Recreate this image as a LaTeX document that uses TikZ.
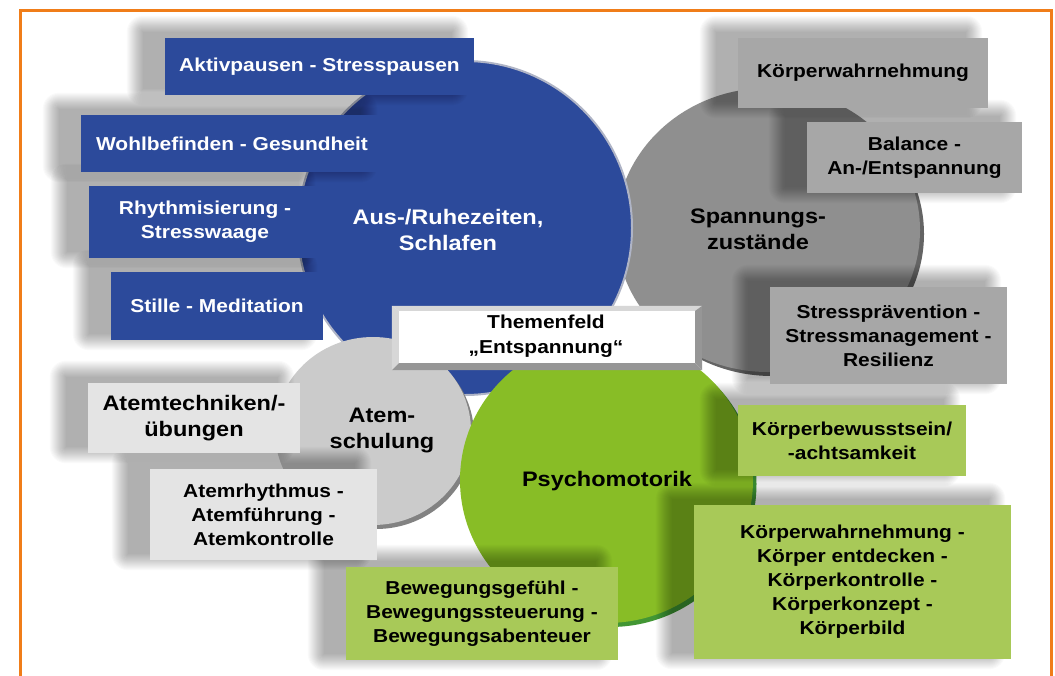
\documentclass[tikz,border=0pt]{standalone}
\usepackage{fontspec}
\setmainfont{Liberation Sans}[FakeStretch=1.12]
\usetikzlibrary{shapes.geometric}
\definecolor{cblue}{RGB}{44,74,155}
\definecolor{cbluerim}{RGB}{175,180,198}
\definecolor{cgray}{RGB}{143,143,143}
\definecolor{cgrayrim}{RGB}{100,100,100}
\definecolor{cgraybox}{RGB}{167,167,167}
\definecolor{clgray}{RGB}{203,203,203}
\definecolor{clgrayrim}{RGB}{130,130,130}
\definecolor{clgraybox}{RGB}{228,228,228}
\definecolor{cgreen}{RGB}{136,189,38}
\definecolor{cgreenrim}{RGB}{66,150,52}
\definecolor{cgreenbox}{RGB}{168,201,88}
\definecolor{corange}{RGB}{240,125,25}
\definecolor{bevlight}{RGB}{215,215,215}
\definecolor{bevdark}{RGB}{150,150,150}
\pgfdeclarelayer{circ}
\pgfdeclarelayer{shad}
\pgfsetlayers{circ,shad,main}
\begin{document}
\begin{tikzpicture}[x=1pt,y=-1pt,
  tbox/.style={rectangle,inner sep=0pt,align=center,font=\bfseries\fontsize{18.7}{24}\selectfont},
  bluebox/.style={tbox,fill=cblue,text=white},
  graybox/.style={tbox,fill=cgraybox,text=black},
  lgraybox/.style={tbox,fill=clgraybox,text=black},
  greenbox/.style={tbox,fill=cgreenbox,text=black},
  disc/.style={ellipse,inner sep=0pt},
  disclabel/.style={align=center,font=\bfseries\fontsize{21}{26}\selectfont},
  shadowstep/.style={fill=black,opacity=0.02},
]
\useasboundingbox (0,0) rectangle (1055,675);
\begin{pgfonlayer}{circ}
\fill[white] (0,0) rectangle (1055,675);
\draw[corange,line width=3pt] (20,10) rectangle (1051,700);

% discs
\node[disc,fill=cgrayrim,minimum width=304pt,minimum height=284pt] (spannrim) at (772,234) {};
\node[disc,fill=cgray,minimum width=304pt,minimum height=284pt] (spann) at (768,230) {};
\node[disc,fill=cblue,draw=cbluerim,line width=2pt,minimum width=334pt,minimum height=334pt] (aus) at (465,228) {};
\node[disc,fill=clgrayrim,minimum width=196pt,minimum height=188pt] (atemrim) at (376,435) {};
\node[disc,fill=clgray,minimum width=196pt,minimum height=188pt] (atem) at (373,431) {};
\node[disc,fill=cgreenrim,minimum width=293pt,minimum height=286pt] (psychorim) at (610,484) {};
\node[disc,fill=cgreen,minimum width=293pt,minimum height=286pt] (psycho) at (606.5,480) {};

% disc labels
\node[disclabel,text=white] (auslbl) at (448,230) {Aus-/Ruhezeiten,\\Schlafen};
\node[disclabel] (spannlbl) at (758,229) {Spannungs-\\zustände};
\node[disclabel] (atemlbl) at (382,430) {Atem-\\schulung};
\node[disclabel] (psycholbl) at (607,481) {Psychomotorik};
\end{pgfonlayer}

% blue boxes
\node[bluebox,minimum width=309pt,minimum height=57pt] (b1) at (319.5,66.5) {Aktivpausen - Stresspausen};
\node[bluebox,minimum width=302pt,minimum height=57pt] (b2) at (232,143.5) {Wohlbefinden - Gesundheit};
\node[bluebox,minimum width=232pt,minimum height=72pt] (b3) at (205,222) {Rhythmisierung -\\Stresswaage};
\node[bluebox,minimum width=212pt,minimum height=68pt] (b4) at (217,306) {Stille - Meditation};

% gray boxes
\node[graybox,minimum width=250pt,minimum height=70pt] (g1) at (863,73) {Körperwahrnehmung};
\node[graybox,minimum width=215pt,minimum height=71pt] (g2) at (914.5,157.5) {Balance -\\An-/Entspannung};
\node[graybox,minimum width=237pt,minimum height=97pt] (g3) at (888.5,335.5) {Stressprävention -\\Stressmanagement -\\Resilienz};

% light gray boxes
\node[lgraybox,minimum width=212pt,minimum height=70pt,font=\bfseries\fontsize{21}{26}\selectfont] (l1) at (194,418) {Atemtechniken/-\\übungen};
\node[lgraybox,minimum width=227pt,minimum height=91pt] (l2) at (263.5,514.5) {Atemrhythmus -\\Atemführung -\\Atemkontrolle};

% green boxes
\node[greenbox,minimum width=228pt,minimum height=71pt] (gr1) at (852,440.5) {Körperbewusstsein/\\-achtsamkeit};
\node[greenbox,minimum width=317pt,minimum height=154pt] (gr2) at (852.5,582) {Körperwahrnehmung -\\Körper entdecken -\\Körperkontrolle -\\Körperkonzept -\\Körperbild};
\node[greenbox,minimum width=272pt,minimum height=93pt] (gr3) at (482,613.5) {Bewegungsgefühl -\\Bewegungssteuerung -\\Bewegungsabenteuer};

% soft shadows (to the upper left of each box)
\begin{pgfonlayer}{shad}
\foreach \n in {b1,b2,b3,b4,g1,g2,g3,l1,l2,gr1,gr2,gr3}{
  \foreach \k in {0,...,16}{
    \fill[shadowstep,rounded corners=\k pt] ([shift={(-22-\k,-6-\k)}]\n.north west) rectangle ([shift={(-22+\k,-6+\k)}]\n.south east);
  }
}
\end{pgfonlayer}

% central bevelled box
\node[rectangle,fill=white,minimum width=310pt,minimum height=64pt,inner sep=0pt] (theme) at (547,338) {};
\fill[bevlight] (theme.north west) -- (theme.north east) -- ([shift={(-7,5)}]theme.north east) -- ([shift={(7,5)}]theme.north west) -- cycle;
\fill[bevlight] (theme.north west) -- ([shift={(7,5)}]theme.north west) -- ([shift={(7,-7)}]theme.south west) -- (theme.south west) -- cycle;
\fill[bevdark] (theme.north east) -- (theme.south east) -- ([shift={(-7,-7)}]theme.south east) -- ([shift={(-7,5)}]theme.north east) -- cycle;
\fill[bevdark] (theme.south west) -- (theme.south east) -- ([shift={(-7,-7)}]theme.south east) -- ([shift={(7,-7)}]theme.south west) -- cycle;
\node[align=center,font=\bfseries\fontsize{18.7}{25}\selectfont] (themelbl) at (546,336) {Themenfeld\\„Entspannung“};
\end{tikzpicture}
\end{document}
